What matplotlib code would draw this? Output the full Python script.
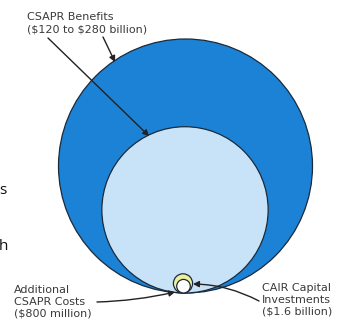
import matplotlib
matplotlib.use("Agg")
import matplotlib.pyplot as plt
from matplotlib.patches import Circle
import numpy as np

# values in $ billion; circle area is proportional to value
labels = ["CSAPR Benefits (high)", "CSAPR Benefits (low)",
          "CAIR Capital Investments", "Additional CSAPR Costs"]
values = [280, 120, 1.6, 0.8]
fills = ["#1c82d6", "#c8e3f8", "#eef09c", "#ffffff"]

benefit_text = "CSAPR Benefits\n(\\$120 to \\$280 billion)"
cost_text = "Additional\nCSAPR Costs\n(\\$800 million)"
cair_text = "CAIR Capital\nInvestments\n(\\$1.6 billion)"

W, H = 337, 324
fig = plt.figure(figsize=(W / 100, H / 100), dpi=100)
ax = fig.add_axes([0, 0, 1, 1])
ax.set_xlim(0, W)
ax.set_ylim(H, 0)
ax.set_aspect("equal")
ax.axis("off")

# all circles sit on a common baseline, big one scaled to r=127 px
base_y = 293
k = 127 / np.sqrt(values[0])
cx = [185.5, 185, 183, 183.5]
for v, c, x in zip(values, fills, cx):
    r = k * np.sqrt(v)
    ax.add_patch(Circle((x, base_y - r), r, facecolor=c,
                        edgecolor="#1b2a3a", linewidth=0.9))

tc = "#3a3a3a"
fs = 8.0
ax.text(27, 23, benefit_text, fontsize=fs, color=tc, va="center",
        linespacing=1.25)
ax.text(14, 302, cost_text, fontsize=fs, color=tc, va="center",
        linespacing=1.2)
ax.text(262, 300, cair_text, fontsize=fs, color=tc, va="center",
        linespacing=1.25)

# stray cropped letters at the left edge
ax.text(6, 190, "s", fontsize=11, color="#111111", ha="right", va="center",
        family="Open Sans")
ax.text(8.5, 246, "h", fontsize=11, color="#111111", ha="right", va="center",
        family="Open Sans")

ap = dict(arrowstyle="-|>,head_length=0.35,head_width=0.18",
          color="#222222", linewidth=1.0, shrinkA=0, shrinkB=0)
ax.annotate("", xy=(149, 136), xytext=(48, 38), arrowprops=ap)
ax.annotate("", xy=(115, 62), xytext=(103, 37), arrowprops=ap)
ax.annotate("", xy=(175, 292), xytext=(97, 302),
            arrowprops=dict(ap, connectionstyle="arc3,rad=0.05"))
ax.annotate("", xy=(193, 284), xytext=(259, 301),
            arrowprops=dict(ap, connectionstyle="arc3,rad=0.12"))

fig.savefig("out.png", dpi=100)
